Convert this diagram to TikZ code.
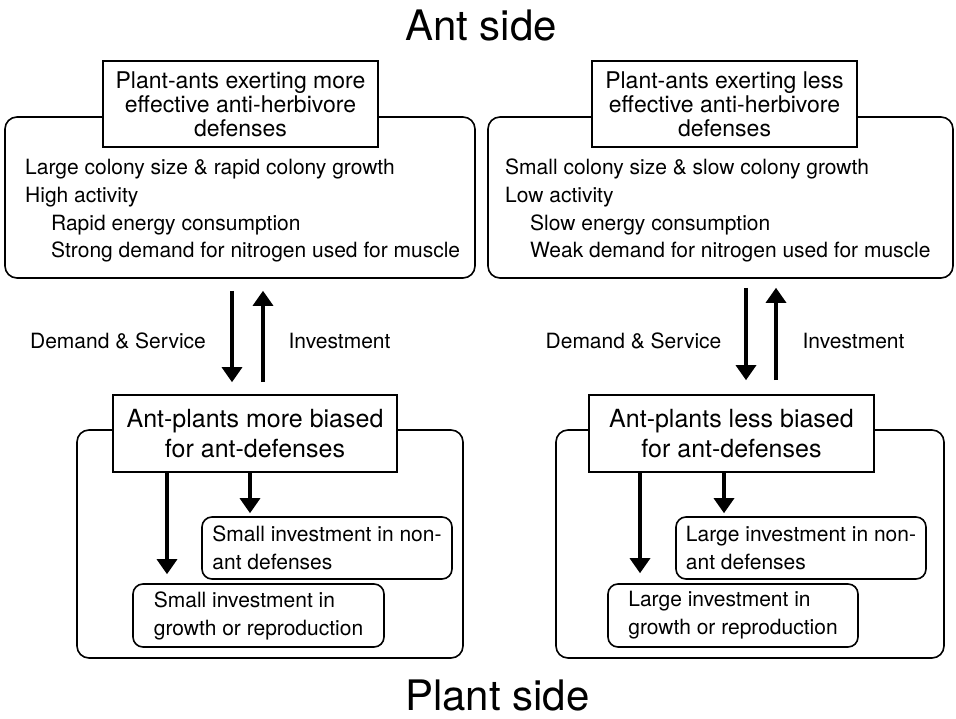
\documentclass[tikz,border=0pt]{standalone}
\usepackage{fontspec}
\setmainfont{TeX Gyre Heros}
\usetikzlibrary{arrows.meta}
\begin{document}
\begin{tikzpicture}[x=1pt,y=-1pt,
  panel/.style={draw, line width=1.6pt, rounded corners=12pt, inner sep=0pt},
  headbox/.style={draw, fill=white, line width=1.6pt, inner sep=0pt, align=center},
  smallbox/.style={draw, fill=white, line width=1.6pt, rounded corners=10pt, inner sep=0pt,
                   align=left, font=\fontsize{21}{28}\selectfont},
  bodyline/.style={anchor=base west, inner sep=0pt, font=\fontsize{21}{25}\selectfont},
  flow/.style={line width=3.3pt, -{Triangle[width=20pt,length=15pt]}},
  side/.style={anchor=base west, inner sep=0pt, font=\fontsize{42}{50}\selectfont},
  flowlabel/.style={inner sep=0pt, font=\fontsize{21}{25}\selectfont}]
\useasboundingbox (0,0) rectangle (956,719);

% ---------- headings ----------
\node[side] (antside) at (405,41) {Ant side};
\node[side] (plantside) at (405,710) {Plant side};

% ---------- ant panels ----------
\node[panel, minimum width=470pt, minimum height=161pt] (antL) at (240,197.5) {};
\node[panel, minimum width=465pt, minimum height=161pt] (antR) at (720.5,197.5) {};

\node[headbox, minimum width=275pt, minimum height=86pt, font=\fontsize{23}{24}\selectfont]
  (headL) at (240.5,104) {Plant-ants exerting more\\effective anti-herbivore\\defenses};
\node[headbox, minimum width=265pt, minimum height=86pt, font=\fontsize{23}{24}\selectfont]
  (headR) at (724.5,104) {Plant-ants exerting less\\effective anti-herbivore\\defenses};

\node[bodyline] (l1) at (25,175) {Large colony size \& rapid colony growth};
\node[bodyline] (l2) at (25,202.7) {High activity};
\node[bodyline] (l3) at (51,230.3) {Rapid energy consumption};
\node[bodyline] (l4) at (51,258) {Strong demand for nitrogen used for muscle};

\node[bodyline] (r1) at (505,175) {Small colony size \& slow colony growth};
\node[bodyline] (r2) at (505,202.7) {Low activity};
\node[bodyline] (r3) at (530,230.3) {Slow energy consumption};
\node[bodyline] (r4) at (530,258) {Weak demand for nitrogen used for muscle};

% ---------- plant panels ----------
\node[panel, minimum width=386pt, minimum height=228pt] (plantL) at (270,544) {};
\node[panel, minimum width=388pt, minimum height=228pt] (plantR) at (750,544) {};

\node[headbox, minimum width=284pt, minimum height=77pt, font=\fontsize{25}{30}\selectfont]
  (midL) at (255,433.5) {Ant-plants more biased\\for ant-defenses};
\node[headbox, minimum width=285pt, minimum height=77pt, font=\fontsize{25}{30}\selectfont]
  (midR) at (731.5,433.5) {Ant-plants less biased\\for ant-defenses};

\node[smallbox, minimum width=250pt, minimum height=62pt] (nonL) at (327,548)
  {Small investment in non-\\ant defenses};
\node[smallbox, minimum width=251pt, minimum height=63pt] (growL) at (258.5,615.5)
  {Small investment in\\growth or reproduction};
\node[smallbox, minimum width=250pt, minimum height=62pt] (nonR) at (801,548)
  {Large investment in non-\\ant defenses};
\node[smallbox, minimum width=250pt, minimum height=63pt] (growR) at (733,615.5)
  {Large investment in\\growth or reproduction};

% ---------- exchange arrows between ants and plants ----------
\coordinate (dnL) at ([xshift=-8pt]antL.south);
\coordinate (upL) at ([xshift=23pt]antL.south);
\coordinate (dnR) at ([xshift=25.5pt]antR.south);
\coordinate (upR) at ([xshift=55.5pt]antR.south);

\draw[flow, shorten <=12pt, shorten >=12pt] (dnL) -- (dnL |- midL.north);
\draw[flow, shorten <=12pt, shorten >=12pt] (upL |- midL.north) -- (upL);
\draw[flow, shorten <=9pt, shorten >=14pt] (dnR) -- (dnR |- midR.north);
\draw[flow, shorten <=14pt, shorten >=9pt] (upR |- midR.north) -- (upR);

\node[flowlabel] (dsL) at (118,341) {Demand \& Service};
\node[flowlabel] (invL) at (339.5,341) {Investment};
\node[flowlabel] (dsR) at (633.5,341) {Demand \& Service};
\node[flowlabel] (invR) at (853.5,341) {Investment};

% ---------- allocation arrows inside the plant panels ----------
\coordinate (gL) at ([xshift=-88pt]midL.south);
\coordinate (nL) at ([xshift=-5pt]midL.south);
\coordinate (gR) at ([xshift=-91.5pt]midR.south);
\coordinate (nR) at ([xshift=-7.5pt]midR.south);

\draw[flow, shorten >=9pt] (gL) -- (gL |- growL.north);
\draw[flow, shorten >=3pt] (nL) -- (nL |- nonL.north);
\draw[flow, shorten >=10pt] (gR) -- (gR |- growR.north);
\draw[flow, shorten >=3pt] (nR) -- (nR |- nonR.north);
\end{tikzpicture}
\end{document}
